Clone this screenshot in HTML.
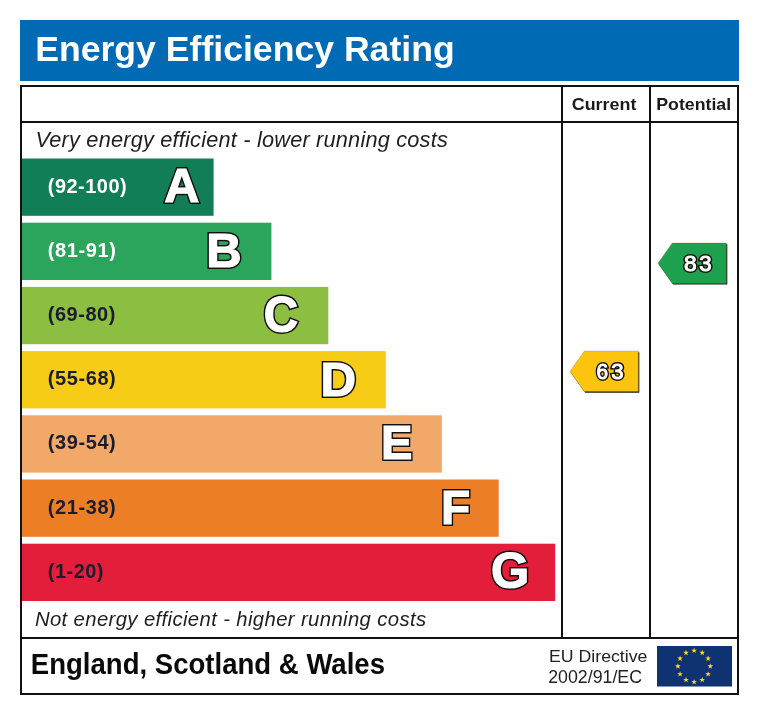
<!DOCTYPE html>
<html><head><meta charset="utf-8"><style>
html,body{margin:0;padding:0;background:#fff;width:760px;height:715px;overflow:hidden}
svg{display:block;will-change:transform}
text{font-family:"Liberation Sans",sans-serif}
</style></head><body>
<svg width="760" height="715" viewBox="0 0 760 715">
<rect x="20" y="20" width="719" height="61" fill="#006ab4"/>
<text transform="translate(35.16 61.20) scale(1.0179 1.0000)" font-family="Liberation Sans" font-size="35" font-weight="bold" font-style="normal" fill="#fff">Energy Efficiency Rating</text>
<rect x="21" y="86" width="717" height="608" fill="none" stroke="#111" stroke-width="2"/>
<rect x="20" y="121" width="719" height="2" fill="#111"/>
<rect x="20" y="637" width="719" height="2" fill="#111"/>
<rect x="561" y="85" width="2" height="554" fill="#111"/>
<rect x="649" y="85" width="2" height="554" fill="#111"/>
<text transform="translate(571.75 109.80) scale(1.0533 0.9833)" font-family="Liberation Sans" font-size="17" font-weight="bold" font-style="normal" fill="#1a1a1a">Current</text>
<text transform="translate(656.26 109.70) scale(1.0429 0.9750)" font-family="Liberation Sans" font-size="17" font-weight="bold" font-style="normal" fill="#1a1a1a">Potential</text>
<text transform="translate(35.43 146.50) scale(1.0357 1.0357)" font-family="Liberation Sans" font-size="21" font-weight="normal" font-style="italic" letter-spacing="0.195" fill="#1e1e1e">Very energy efficient - lower running costs</text>
<text transform="translate(34.90 625.90) scale(1.0000 1.0000)" font-family="Liberation Sans" font-size="20.3" font-weight="normal" font-style="italic" letter-spacing="0.376" fill="#1e1e1e">Not energy efficient - higher running costs</text>
<rect x="22" y="158.5" width="191.6" height="57.3" fill="#117e56"/>
<text transform="translate(47.85 192.60) scale(1.0505 1.0385)" font-family="Liberation Sans" font-size="19" font-weight="bold" font-style="normal" letter-spacing="0.458" fill="#fff">(92-100)</text>
<text transform="translate(164.18 201.86) scale(0.9923 0.9676)" font-family="Liberation Sans" font-size="49" font-weight="bold" font-style="normal" fill="#141010" stroke="#141010" stroke-width="4.2" stroke-linejoin="miter" stroke-miterlimit="3">A</text><text transform="translate(164.18 201.86) scale(0.9923 0.9676)" font-family="Liberation Sans" font-size="49" font-weight="bold" font-style="normal" fill="#fff" stroke="#fff" stroke-width="1.2" stroke-linejoin="miter" stroke-miterlimit="3">A</text>
<rect x="22" y="222.7" width="249.4" height="57.3" fill="#2ba45c"/>
<text transform="translate(47.85 256.80) scale(1.0535 1.0385)" font-family="Liberation Sans" font-size="19" font-weight="bold" font-style="normal" letter-spacing="0.561" fill="#fff">(81-91)</text>
<text transform="translate(206.30 266.72) scale(1.0000 0.9919)" font-family="Liberation Sans" font-size="49" font-weight="bold" font-style="normal" fill="#141010" stroke="#141010" stroke-width="4.2" stroke-linejoin="miter" stroke-miterlimit="3">B</text><text transform="translate(206.30 266.72) scale(1.0000 0.9919)" font-family="Liberation Sans" font-size="49" font-weight="bold" font-style="normal" fill="#fff" stroke="#fff" stroke-width="1.2" stroke-linejoin="miter" stroke-miterlimit="3">B</text>
<rect x="22" y="286.9" width="306.3" height="57.3" fill="#8cbe42"/>
<text transform="translate(47.85 321.00) scale(1.0514 1.0385)" font-family="Liberation Sans" font-size="19" font-weight="bold" font-style="normal" letter-spacing="0.486" fill="#1c1c30">(69-80)</text>
<text transform="translate(263.70 331.98) scale(0.9722 1.0108)" font-family="Liberation Sans" font-size="49" font-weight="bold" font-style="normal" fill="#141010" stroke="#141010" stroke-width="4.2" stroke-linejoin="miter" stroke-miterlimit="3">C</text><text transform="translate(263.70 331.98) scale(0.9722 1.0108)" font-family="Liberation Sans" font-size="49" font-weight="bold" font-style="normal" fill="#fff" stroke="#fff" stroke-width="1.2" stroke-linejoin="miter" stroke-miterlimit="3">C</text>
<rect x="22" y="351.1" width="363.8" height="57.3" fill="#f6cc16"/>
<text transform="translate(47.85 385.20) scale(1.0531 1.0385)" font-family="Liberation Sans" font-size="19" font-weight="bold" font-style="normal" letter-spacing="0.548" fill="#1c1c30">(55-68)</text>
<text transform="translate(320.59 396.41) scale(1.0088 0.9946)" font-family="Liberation Sans" font-size="49" font-weight="bold" font-style="normal" fill="#141010" stroke="#141010" stroke-width="4.2" stroke-linejoin="miter" stroke-miterlimit="3">D</text><text transform="translate(320.59 396.41) scale(1.0088 0.9946)" font-family="Liberation Sans" font-size="49" font-weight="bold" font-style="normal" fill="#fff" stroke="#fff" stroke-width="1.2" stroke-linejoin="miter" stroke-miterlimit="3">D</text>
<rect x="22" y="415.3" width="419.9" height="57.3" fill="#f1a868"/>
<text transform="translate(47.85 449.40) scale(1.0531 1.0385)" font-family="Liberation Sans" font-size="19" font-weight="bold" font-style="normal" letter-spacing="0.548" fill="#1c1c30">(39-54)</text>
<text transform="translate(381.04 459.03) scale(0.9625 0.9838)" font-family="Liberation Sans" font-size="49" font-weight="bold" font-style="normal" fill="#141010" stroke="#141010" stroke-width="4.2" stroke-linejoin="miter" stroke-miterlimit="3">E</text><text transform="translate(381.04 459.03) scale(0.9625 0.9838)" font-family="Liberation Sans" font-size="49" font-weight="bold" font-style="normal" fill="#fff" stroke="#fff" stroke-width="1.2" stroke-linejoin="miter" stroke-miterlimit="3">E</text>
<rect x="22" y="479.5" width="476.7" height="57.3" fill="#ec7e26"/>
<text transform="translate(47.85 513.60) scale(1.0531 1.0385)" font-family="Liberation Sans" font-size="19" font-weight="bold" font-style="normal" letter-spacing="0.548" fill="#1c1c30">(21-38)</text>
<text transform="translate(441.02 523.75) scale(0.9759 0.9730)" font-family="Liberation Sans" font-size="49" font-weight="bold" font-style="normal" fill="#141010" stroke="#141010" stroke-width="4.2" stroke-linejoin="miter" stroke-miterlimit="3">F</text><text transform="translate(441.02 523.75) scale(0.9759 0.9730)" font-family="Liberation Sans" font-size="49" font-weight="bold" font-style="normal" fill="#fff" stroke="#fff" stroke-width="1.2" stroke-linejoin="miter" stroke-miterlimit="3">F</text>
<rect x="22" y="543.7" width="533.2" height="57.3" fill="#e21e3b"/>
<text transform="translate(47.85 577.80) scale(1.0508 1.0385)" font-family="Liberation Sans" font-size="19" font-weight="bold" font-style="normal" letter-spacing="0.459" fill="#1c1c30">(1-20)</text>
<text transform="translate(490.90 587.79) scale(1.0027 1.0027)" font-family="Liberation Sans" font-size="49" font-weight="bold" font-style="normal" fill="#141010" stroke="#141010" stroke-width="4.2" stroke-linejoin="miter" stroke-miterlimit="3">G</text><text transform="translate(490.90 587.79) scale(1.0027 1.0027)" font-family="Liberation Sans" font-size="49" font-weight="bold" font-style="normal" fill="#fff" stroke="#fff" stroke-width="1.2" stroke-linejoin="miter" stroke-miterlimit="3">G</text>
<polygon points="570.9,372.5 585.1999999999999,352.3 639.3,352.3 639.3,392.7 585.1999999999999,392.7" fill="#201a10"/>
<polygon points="570.0,371.4 584.3,351.2 638.4,351.2 638.4,391.59999999999997 584.3,391.59999999999997" fill="#fcc40c" stroke="#6a5520" stroke-width="0.5" stroke-opacity="0.6"/>
<text transform="translate(596.39 379.35) scale(0.8867 0.9238)" font-family="Liberation Sans" font-size="23.5" font-weight="normal" font-style="normal" fill="#141010" stroke="#141010" stroke-width="4.300000000000001" stroke-linejoin="miter" stroke-miterlimit="3">6</text><text transform="translate(596.39 379.35) scale(0.8867 0.9238)" font-family="Liberation Sans" font-size="23.5" font-weight="normal" font-style="normal" fill="#fff" stroke="#fff" stroke-width="1.1" stroke-linejoin="miter" stroke-miterlimit="3">6</text>
<text transform="translate(611.25 379.35) scale(0.9467 0.9238)" font-family="Liberation Sans" font-size="23.5" font-weight="normal" font-style="normal" fill="#141010" stroke="#141010" stroke-width="4.300000000000001" stroke-linejoin="miter" stroke-miterlimit="3">3</text><text transform="translate(611.25 379.35) scale(0.9467 0.9238)" font-family="Liberation Sans" font-size="23.5" font-weight="normal" font-style="normal" fill="#fff" stroke="#fff" stroke-width="1.1" stroke-linejoin="miter" stroke-miterlimit="3">3</text>
<polygon points="658.9,264.40000000000003 673.1999999999999,244.2 727.3,244.2 727.3,284.6 673.1999999999999,284.6" fill="#201a10"/>
<polygon points="658.0,263.3 672.3,243.1 726.4,243.1 726.4,283.5 672.3,283.5" fill="#1ea14e" stroke="#6a5520" stroke-width="0.5" stroke-opacity="0.6"/>
<text transform="translate(683.97 271.37) scale(0.9667 0.9143)" font-family="Liberation Sans" font-size="23.5" font-weight="normal" font-style="normal" fill="#141010" stroke="#141010" stroke-width="4.300000000000001" stroke-linejoin="miter" stroke-miterlimit="3">8</text><text transform="translate(683.97 271.37) scale(0.9667 0.9143)" font-family="Liberation Sans" font-size="23.5" font-weight="normal" font-style="normal" fill="#fff" stroke="#fff" stroke-width="1.1" stroke-linejoin="miter" stroke-miterlimit="3">8</text>
<text transform="translate(699.25 271.37) scale(0.9467 0.9143)" font-family="Liberation Sans" font-size="23.5" font-weight="normal" font-style="normal" fill="#141010" stroke="#141010" stroke-width="4.300000000000001" stroke-linejoin="miter" stroke-miterlimit="3">3</text><text transform="translate(699.25 271.37) scale(0.9467 0.9143)" font-family="Liberation Sans" font-size="23.5" font-weight="normal" font-style="normal" fill="#fff" stroke="#fff" stroke-width="1.1" stroke-linejoin="miter" stroke-miterlimit="3">3</text>
<text transform="translate(30.83 673.80) scale(0.9843 1.0421)" font-family="Liberation Sans" font-size="28" font-weight="bold" font-style="normal" fill="#0a0a0a">England, Scotland &amp; Wales</text>
<text transform="translate(548.98 661.90) scale(1.0189 0.9917)" font-family="Liberation Sans" font-size="17.4" font-weight="normal" font-style="normal" fill="#222">EU Directive</text>
<text transform="translate(548.18 682.70) scale(1.0222 1.0167)" font-family="Liberation Sans" font-size="17.4" font-weight="normal" font-style="normal" fill="#222">2002/91/EC</text>
<rect x="657" y="646" width="75" height="40.5" fill="#0f3370"/>
<polygon points="694.10,647.60 694.81,649.63 696.95,649.67 695.24,650.97 695.86,653.03 694.10,651.80 692.34,653.03 692.96,650.97 691.25,649.67 693.39,649.63" fill="#ffdd00"/>
<polygon points="702.20,649.70 702.91,651.73 705.05,651.78 703.34,653.07 703.96,655.13 702.20,653.90 700.44,655.13 701.06,653.07 699.35,651.78 701.49,651.73" fill="#ffdd00"/>
<polygon points="708.13,655.45 708.83,657.48 710.98,657.52 709.27,658.82 709.89,660.88 708.13,659.65 706.37,660.88 706.99,658.82 705.28,657.52 707.42,657.48" fill="#ffdd00"/>
<polygon points="710.30,663.30 711.01,665.33 713.15,665.37 711.44,666.67 712.06,668.73 710.30,667.50 708.54,668.73 709.16,666.67 707.45,665.37 709.59,665.33" fill="#ffdd00"/>
<polygon points="708.13,671.15 708.83,673.18 710.98,673.22 709.27,674.52 709.89,676.58 708.13,675.35 706.37,676.58 706.99,674.52 705.28,673.22 707.42,673.18" fill="#ffdd00"/>
<polygon points="702.20,676.90 702.91,678.93 705.05,678.97 703.34,680.27 703.96,682.32 702.20,681.10 700.44,682.32 701.06,680.27 699.35,678.97 701.49,678.93" fill="#ffdd00"/>
<polygon points="694.10,679.00 694.81,681.03 696.95,681.07 695.24,682.37 695.86,684.43 694.10,683.20 692.34,684.43 692.96,682.37 691.25,681.07 693.39,681.03" fill="#ffdd00"/>
<polygon points="686.00,676.90 686.71,678.93 688.85,678.97 687.14,680.27 687.76,682.32 686.00,681.10 684.24,682.32 684.86,680.27 683.15,678.97 685.29,678.93" fill="#ffdd00"/>
<polygon points="680.07,671.15 680.78,673.18 682.92,673.22 681.21,674.52 681.83,676.58 680.07,675.35 678.31,676.58 678.93,674.52 677.22,673.22 679.37,673.18" fill="#ffdd00"/>
<polygon points="677.90,663.30 678.61,665.33 680.75,665.37 679.04,666.67 679.66,668.73 677.90,667.50 676.14,668.73 676.76,666.67 675.05,665.37 677.19,665.33" fill="#ffdd00"/>
<polygon points="680.07,655.45 680.78,657.48 682.92,657.52 681.21,658.82 681.83,660.88 680.07,659.65 678.31,660.88 678.93,658.82 677.22,657.52 679.37,657.48" fill="#ffdd00"/>
<polygon points="686.00,649.70 686.71,651.73 688.85,651.78 687.14,653.07 687.76,655.13 686.00,653.90 684.24,655.13 684.86,653.07 683.15,651.78 685.29,651.73" fill="#ffdd00"/>
</svg>
</body></html>
